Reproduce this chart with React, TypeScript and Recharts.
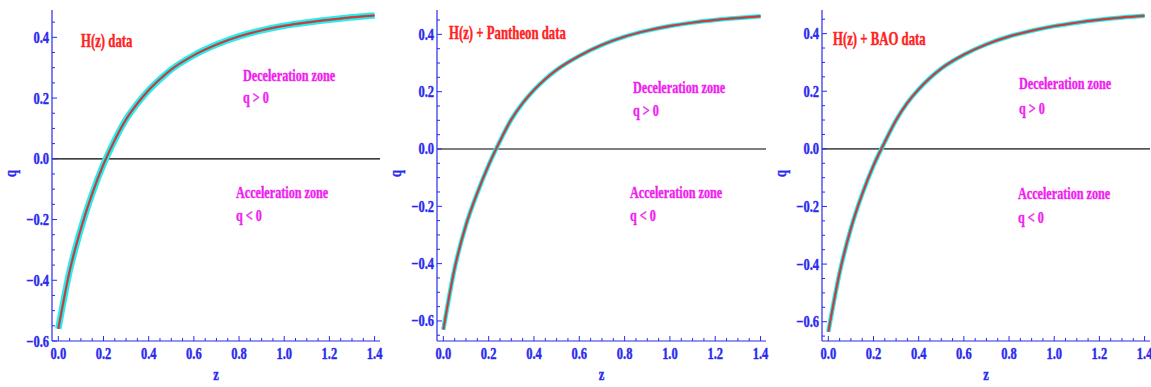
import { LineChart, Line, XAxis, YAxis, ReferenceLine } from "recharts";

// redshift samples shared by the three fits
const zValues = [0, 0.05, 0.1, 0.15, 0.2, 0.25, 0.3, 0.35, 0.4, 0.45, 0.5, 0.6, 0.7, 0.8, 0.9, 1.0, 1.1, 1.2, 1.3, 1.4];

// deceleration parameter q(z)
const qHz = [-0.56, -0.37, -0.23, -0.115, -0.018, 0.062, 0.13, 0.182, 0.226, 0.262, 0.294, 0.341, 0.376, 0.403, 0.423, 0.438, 0.449, 0.458, 0.466, 0.472];
const qHzPantheon = [-0.63, -0.416, -0.265, -0.153, -0.056, 0.028, 0.103, 0.16, 0.206, 0.244, 0.276, 0.325, 0.363, 0.392, 0.413, 0.429, 0.441, 0.45, 0.457, 0.463];
const qHzBao = [-0.635, -0.43, -0.276, -0.157, -0.058, 0.024, 0.1, 0.16, 0.207, 0.246, 0.279, 0.327, 0.363, 0.39, 0.41, 0.426, 0.438, 0.448, 0.456, 0.462];

const xTicks = [0, 0.05, 0.1, 0.15, 0.2, 0.25, 0.3, 0.35, 0.4, 0.45, 0.5, 0.55, 0.6, 0.65, 0.7, 0.75, 0.8, 0.85, 0.9, 0.95, 1.0, 1.05, 1.1, 1.15, 1.2, 1.25, 1.3, 1.35, 1.4];
const yTicksHz = [-0.6, -0.55, -0.5, -0.45, -0.4, -0.35, -0.3, -0.25, -0.2, -0.15, -0.1, -0.05, 0, 0.05, 0.1, 0.15, 0.2, 0.25, 0.3, 0.35, 0.4, 0.45];
const yTicksJoint = [-0.65, -0.6, -0.55, -0.5, -0.45, -0.4, -0.35, -0.3, -0.25, -0.2, -0.15, -0.1, -0.05, 0, 0.05, 0.1, 0.15, 0.2, 0.25, 0.3, 0.35, 0.4, 0.45];

const titles = ["H(z) data", "H(z) + Pantheon data", "H(z) + BAO data"];

const BLUE = "#2a2aee";
const RED = "#ff2222";
const MAGENTA = "#f01ef0";
const FONT = "'Liberation Serif', 'Times New Roman', serif";

const isMajor = (v: number) => Math.abs(v * 5 - Math.round(v * 5)) < 1e-6;
const fmt = (v: number) => (v < -1e-9 ? "\u2212" : "") + Math.abs(v).toFixed(1);

// narrow heavy serif text, like the squeezed labels of the original figure
function Narrow({ x, y, fill, size, sx, anchor, rotate, children }: any) {
  const t = `translate(${x},${y})${rotate ? ` rotate(${rotate})` : ""} scale(${sx},1)`;
  return (
    <text transform={t} x={0} y={0} fill={fill} stroke={fill} strokeWidth={0.4} fontSize={size} fontWeight="bold" fontFamily={FONT} textAnchor={anchor || "start"}>
      {children}
    </text>
  );
}

function AxisTick(props: any) {
  const { x, y, payload, side } = props;
  const v = payload.value as number;
  const major = isMajor(v);
  const len = major ? 5 : 3;
  let line;
  if (side === "bottom") line = <line x1={x} y1={y} x2={x} y2={y - len} />;
  else if (side === "top") line = <line x1={x} y1={y} x2={x} y2={y + len} />;
  else if (side === "left") line = <line x1={x} y1={y} x2={x + len} y2={y} />;
  else line = <line x1={x} y1={y} x2={x - len} y2={y} />;
  return (
    <g stroke={BLUE} strokeWidth={1}>
      {line}
      {major && side === "bottom" && (
        <Narrow x={x} y={y + 17.5} fill={BLUE} size={16} sx={0.78} anchor="middle">{fmt(v)}</Narrow>
      )}
      {major && side === "left" && (
        <Narrow x={x - 3} y={y + 5.5} fill={BLUE} size={16} sx={0.78} anchor="end">{fmt(v)}</Narrow>
      )}
    </g>
  );
}

interface PanelProps {
  left: number;
  width: number;
  values: number[];
  yDomain: [number, number];
  yTicks: number[];
  title: string;
  band: number;
  zeroColor: string;
  zeroWidth: number;
  titlePos: [number, number];
  decelPos: [number, number, number];
  accelPos: [number, number, number];
}

function Panel({ left, width, values, yDomain, yTicks, title, band, zeroColor, zeroWidth, titlePos, decelPos, accelPos }: PanelProps) {
  const data = zValues.map((z, i) => ({ z, q: values[i] }));
  const plotCenter = 52 + (width - 14 - 52) / 2;
  return (
    <div style={{ position: "absolute", left, top: 0, width, height: 387 }}>
      <LineChart width={width} height={387} data={data} margin={{ top: 10, right: 14, bottom: 0, left: 0 }}>
        <XAxis
          dataKey="z"
          type="number"
          domain={[-0.028, 1.424]}
          allowDataOverflow
          ticks={xTicks}
          interval={0}
          height={46}
          tickSize={0}
          tickMargin={0}
          tickLine={false}
          axisLine={{ stroke: BLUE, strokeWidth: 1.2 }}
          tick={(p: any) => <AxisTick {...p} side="bottom" />}
        />
        <XAxis
          xAxisId="top"
          orientation="top"
          dataKey="z"
          type="number"
          domain={[-0.028, 1.424]}
          allowDataOverflow
          ticks={xTicks}
          interval={0}
          height={0}
          tickSize={0}
          tickMargin={0}
          tickLine={false}
          axisLine={{ stroke: BLUE, strokeWidth: 1.2 }}
          tick={(p: any) => <AxisTick {...p} side="top" />}
        />
        <YAxis
          type="number"
          domain={yDomain}
          allowDataOverflow
          ticks={yTicks}
          interval={0}
          width={52}
          tickSize={0}
          tickMargin={0}
          tickLine={false}
          axisLine={{ stroke: BLUE, strokeWidth: 1.2 }}
          tick={(p: any) => <AxisTick {...p} side="left" />}
        />
        <YAxis
          yAxisId="right"
          orientation="right"
          type="number"
          domain={yDomain}
          allowDataOverflow
          ticks={yTicks}
          interval={0}
          width={0}
          tickSize={0}
          tickMargin={0}
          tickLine={false}
          axisLine={{ stroke: BLUE, strokeWidth: 1.2 }}
          tick={(p: any) => <AxisTick {...p} side="right" />}
        />
        <ReferenceLine y={0} stroke={zeroColor} strokeWidth={zeroWidth} />
        <Line key="band" type="monotone" dataKey="q" stroke="#30eaea" strokeWidth={band} dot={false} isAnimationActive={false} />
        <Line key="shade" type="monotone" dataKey="q" stroke="#4a5a5a" strokeWidth={2.4} strokeOpacity={0.6} dot={false} isAnimationActive={false} />
        <Line key="fit" type="monotone" dataKey="q" stroke={RED} strokeWidth={1.4} dot={false} isAnimationActive={false} />
      </LineChart>
      <svg width={width} height={387} style={{ position: "absolute", left: 0, top: 0, pointerEvents: "none" }}>
        <Narrow x={titlePos[0]} y={titlePos[1]} fill={RED} size={18} sx={0.71}>{title}</Narrow>
        <Narrow x={decelPos[0]} y={decelPos[1]} fill={MAGENTA} size={16} sx={0.76}>Deceleration zone</Narrow>
        <Narrow x={decelPos[0]} y={decelPos[2]} fill={MAGENTA} size={16} sx={0.76}>{"q > 0"}</Narrow>
        <Narrow x={accelPos[0]} y={accelPos[1]} fill={MAGENTA} size={16} sx={0.76}>Acceleration zone</Narrow>
        <Narrow x={accelPos[0]} y={accelPos[2]} fill={MAGENTA} size={16} sx={0.76}>{"q < 0"}</Narrow>
        <Narrow x={16} y={173.5} fill={BLUE} size={16} sx={0.78} anchor="middle" rotate={-90}>q</Narrow>
        <Narrow x={plotCenter} y={380} fill={BLUE} size={16} sx={0.78} anchor="middle">z</Narrow>
      </svg>
    </div>
  );
}

export default function App() {
  return (
    <div style={{ position: "absolute", left: 0, top: 0, width: 1151, height: 387, background: "#fff", overflow: "hidden" }}>
      <Panel left={0} width={394} values={qHz} yDomain={[-0.6, 0.49]} yTicks={yTicksHz} title={titles[0]} band={6.5}
        zeroColor="#000" zeroWidth={1.2} titlePos={[81, 47]} decelPos={[243, 81, 103]} accelPos={[236, 197.5, 220.5]} />
      <Panel left={385} width={395} values={qHzPantheon} yDomain={[-0.67, 0.485]} yTicks={yTicksJoint} title={titles[1]} band={4.5}
        zeroColor="#555" zeroWidth={1.6} titlePos={[64, 39.3]} decelPos={[248, 93.3, 116]} accelPos={[245, 198.3, 221]} />
      <Panel left={770} width={394} values={qHzBao} yDomain={[-0.667, 0.482]} yTicks={yTicksJoint} title={titles[2]} band={4.5}
        zeroColor="#555" zeroWidth={1.6} titlePos={[63, 45]} decelPos={[249, 89.3, 114.3]} accelPos={[248, 198.7, 222.7]} />
    </div>
  );
}
